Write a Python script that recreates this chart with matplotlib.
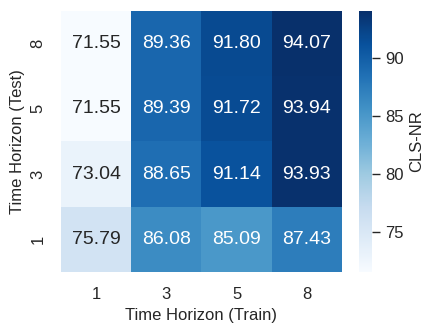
import matplotlib
matplotlib.use("agg")
import matplotlib.pyplot as plt
import numpy as np
import pandas as pd
import seaborn as sns

train_horizons = ["1", "3", "5", "8"]
test_horizons = ["8", "5", "3", "1"]
cls_nr = [
    [71.55, 89.36, 91.80, 94.07],
    [71.55, 89.39, 91.72, 93.94],
    [73.04, 88.65, 91.14, 93.93],
    [75.79, 86.08, 85.09, 87.43],
]

sns.set_theme(style="white")
plt.rcParams["font.family"] = ["Liberation Sans", "DejaVu Sans"]

table = pd.DataFrame(cls_nr, index=test_horizons, columns=train_horizons)

fig = plt.figure(figsize=(4.38, 3.34), dpi=100)
axis = fig.add_axes([0.139, 0.186, 0.642, 0.781])
colorbar_axis = fig.add_axes([0.820, 0.186, 0.030, 0.781])

sns.heatmap(
    table,
    ax=axis,
    cbar_ax=colorbar_axis,
    cmap="Blues",
    annot=True,
    fmt=".2f",
    annot_kws={"fontsize": 14},
    cbar_kws={"label": "CLS-NR", "ticks": [75, 80, 85, 90]},
)
axis.set_xlabel("Time Horizon (Train)", fontsize=12)
axis.set_ylabel("Time Horizon (Test)", fontsize=12)
axis.tick_params(axis="both", length=0, labelsize=12, pad=11)
plt.setp(axis.get_yticklabels(), rotation=90, va="center")

colorbar_axis.tick_params(length=6, width=1, labelsize=12, pad=3, color="#262626")
colorbar_axis.yaxis.label.set_size(12)

fig.savefig("out.png", dpi=100)
